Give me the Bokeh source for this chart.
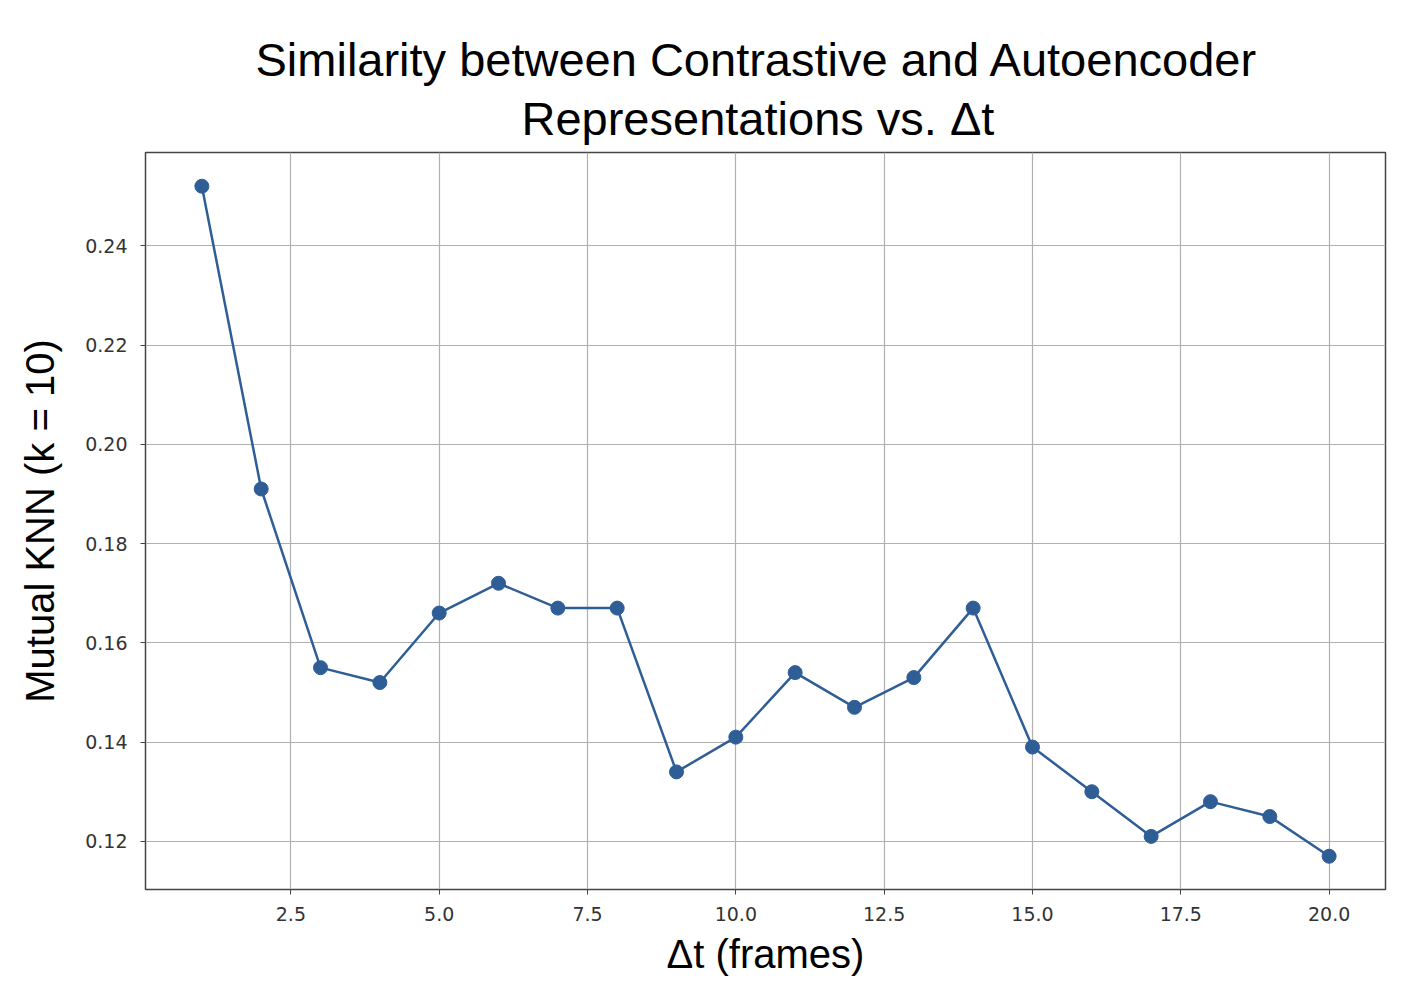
from bokeh.plotting import figure
from bokeh.models import FixedTicker, NumeralTickFormatter, Title, Range1d
from bokeh.embed import file_html
from bokeh.resources import INLINE

# данные
dt = [1, 2, 3, 4, 5, 6, 7, 8, 9, 10, 11, 12, 13, 14, 15, 16, 17, 18, 19, 20]
mknn = [0.252, 0.191, 0.155, 0.152, 0.166, 0.172, 0.167, 0.167, 0.134, 0.141,
        0.154, 0.147, 0.153, 0.167, 0.139, 0.130, 0.121, 0.128, 0.125, 0.117]
x_ticks = [2.5, 5.0, 7.5, 10.0, 12.5, 15.0, 17.5, 20.0]
y_ticks = [0.12, 0.14, 0.16, 0.18, 0.20, 0.22, 0.24]

color = "#2f5e96"
font = "Liberation Sans"

p = figure(width=1398, height=986, output_backend="svg", toolbar_location=None, tools="",
           x_range=Range1d(0.05, 20.95), y_range=Range1d(0.1103, 0.2588),
           min_border_left=145, min_border_right=13, min_border_top=152, min_border_bottom=97)

# заголовок в две строки
p.add_layout(Title(text="Representations vs. Δt", align="left", text_font=font, text_color="black",
                   text_font_size="47px", text_font_style="normal", offset=376, standoff=15), "above")
p.add_layout(Title(text="Similarity between Contrastive and Autoencoder", align="left", text_font=font,
                   text_color="black", text_font_size="47px", text_font_style="normal", offset=110, standoff=-7), "above")

p.line(dt, mknn, line_color=color, line_width=2.5)
p.scatter(dt, mknn, size=14, fill_color=color, line_color=color)

# оси
p.xaxis.ticker = FixedTicker(ticks=x_ticks)
p.yaxis.ticker = FixedTicker(ticks=y_ticks)
p.xaxis.formatter = NumeralTickFormatter(format="0.0")
p.yaxis.formatter = NumeralTickFormatter(format="0.00")
p.xaxis.axis_label = "Δt (frames)"
p.yaxis.axis_label = "Mutual KNN (k = 10)"
p.axis.axis_label_text_font = font
p.axis.axis_label_text_font_size = "40px"
p.axis.axis_label_text_font_style = "normal"
p.axis.axis_label_text_color = "black"
p.axis.major_label_text_font = "DejaVu Sans"
p.axis.major_label_text_font_size = "19px"
p.axis.major_label_text_color = "#333333"
p.axis.minor_tick_line_color = None
p.axis.major_tick_out = 5
p.axis.major_tick_in = 0
p.axis.axis_line_color = "#444444"
p.axis.major_tick_line_color = "#444444"
p.xaxis.major_label_standoff = 12
p.yaxis.major_label_standoff = 13
p.xaxis.axis_label_standoff = 8
p.yaxis.axis_label_standoff = 20

p.grid.grid_line_color = "#b0b0b0"
p.grid.grid_line_width = 1.2
p.outline_line_color = "#444444"
p.outline_line_width = 1.5

open("out.html", "w").write(file_html(p, INLINE))
